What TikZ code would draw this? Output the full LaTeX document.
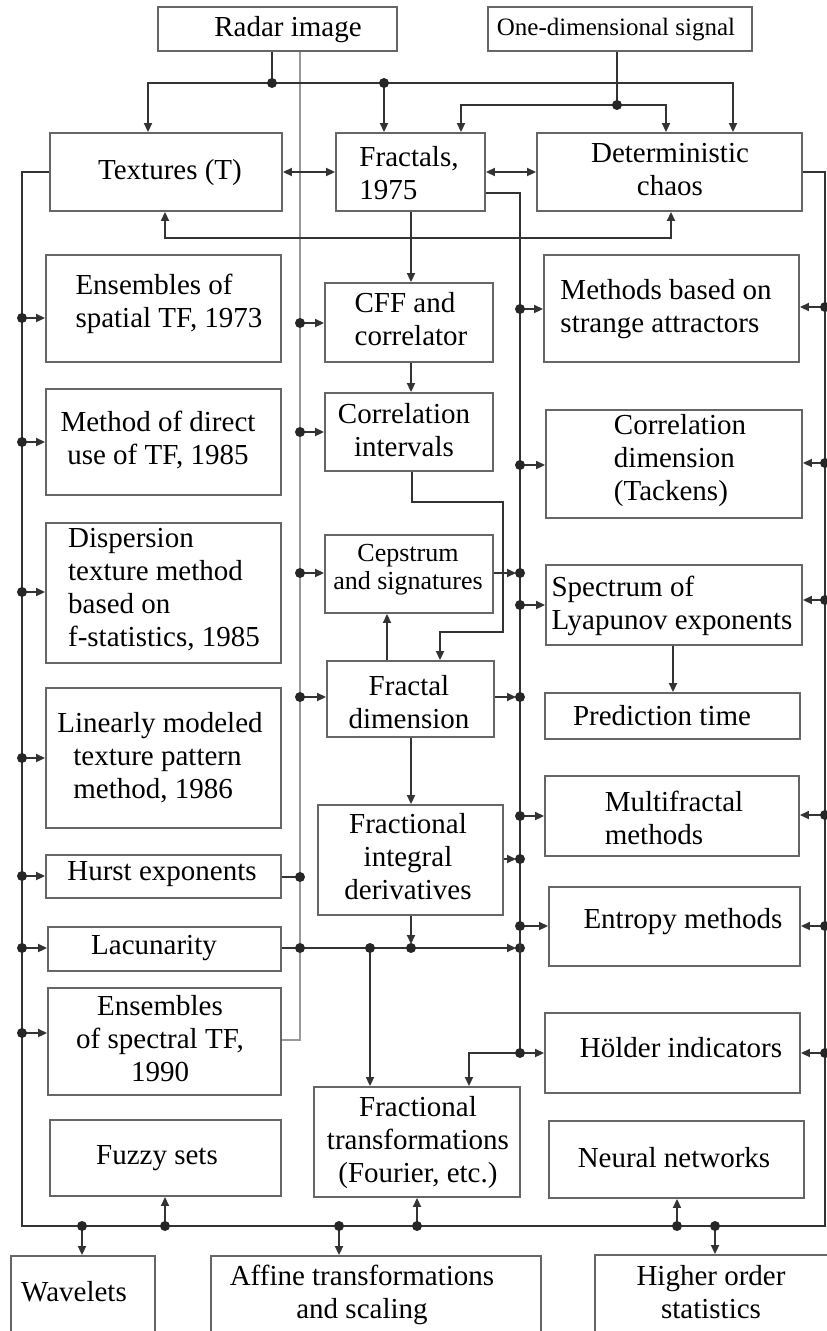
\documentclass[tikz,border=0pt]{standalone}
\usepackage{fontspec}
\setmainfont{Liberation Serif}
\usetikzlibrary{arrows.meta,fit}
\newcommand\jd[1]{\fill[black!85] (#1) circle (5pt);}
\begin{document}
\begin{tikzpicture}[x=1pt,y=-1pt,
  box/.style={draw=black!60, line width=1.9pt, inner sep=0pt},
  txt/.style={inner sep=0pt, align=center, font=\fontsize{29}{33}\selectfont, text=black},
  ln/.style={draw=black!80, line width=1.9pt},
  arr/.style={ln, -{Triangle[length=9pt,width=8pt]}},
  darr/.style={ln, {Triangle[length=9pt,width=8pt]}-{Triangle[length=9pt,width=8pt]}},
  guide/.style={draw=black!40, line width=1.1pt}]
\useasboundingbox (0,0) rectangle (827,1331);
\fill[white] (0,0) rectangle (827,1331);
\clip (0,0) rectangle (827,1331);

% boxes
\node[box, fit={(158,7) (397,51)}] (radar) {};
\node[box, fit={(488,7) (752,51)}] (onedim) {};
\node[box, fit={(50,133) (282,211)}] (textures) {};
\node[box, fit={(336,133) (485,211)}] (fractals) {};
\node[box, fit={(537,133) (802,211)}] (chaos) {};
\node[box, fit={(46,255) (281,362)}] (ens1) {};
\node[box, fit={(46,389) (281,495)}] (direct) {};
\node[box, fit={(46,523) (281,663)}] (disp) {};
\node[box, fit={(46,688) (281,828)}] (linear) {};
\node[box, fit={(46,855) (281,898)}] (hurst) {};
\node[box, fit={(48,927) (281,971)}] (lacun) {};
\node[box, fit={(48,988) (281,1095)}] (ens2) {};
\node[box, fit={(50,1120) (281,1196)}] (fuzzy) {};
\node[box, fit={(325,283) (493,362)}] (cff) {};
\node[box, fit={(325,393) (493,471)}] (corr) {};
\node[box, fit={(325,535) (493,613)}] (ceps) {};
\node[box, fit={(327,661) (494,737)}] (fdim) {};
\node[box, fit={(318,805) (503,915)}] (fint) {};
\node[box, fit={(314,1087) (520,1197)}] (ftrans) {};
\node[box, fit={(544,255) (799,362)}] (strange) {};
\node[box, fit={(546,410) (802,518)}] (cdim) {};
\node[box, fit={(546,565) (802,645)}] (lyap) {};
\node[box, fit={(545,693) (800,739)}] (pred) {};
\node[box, fit={(545,776) (799,856)}] (multi) {};
\node[box, fit={(549,887) (800,966)}] (entropy) {};
\node[box, fit={(545,1013) (800,1093)}] (holder) {};
\node[box, fit={(549,1121) (804,1198)}] (neural) {};
\node[box, fit={(11,1256) (155,1350)}] (wave) {};
\node[box, fit={(211,1256) (541,1350)}] (affine) {};
\node[box, fit={(595,1255) (845,1350)}] (higher) {};

% texts
\node[txt] (radar-t) at (288,30) {Radar image};
\node[txt,font=\fontsize{25}{28}\selectfont] (onedim-t) at (616,30) {One-dimensional signal};
\node[txt] (textures-t) at (170,173) {Textures (T)};
\node[txt,align=left] (fractals-t) at (409,173) {Fractals,\\1975};
\node[txt] (chaos-t) at (670,170) {Deterministic\\chaos};
\node[txt,align=left] (ens1-t) at (169,304) {Ensembles of\\spatial TF, 1973};
\node[txt] (direct-t) at (158,440) {Method of direct\\use of TF, 1985};
\node[txt,align=left] (disp-t) at (164,590) {Dispersion\\texture method\\based on\\f-statistics, 1985};
\node[txt,align=left] (linear-t) at (168,758) {\hspace*{-16pt}Linearly modeled\\texture pattern\\method, 1986};
\node[txt] (hurst-t) at (162,874) {Hurst exponents};
\node[txt] (lacun-t) at (154,948) {Lacunarity};
\node[txt] (ens2-t) at (160,1039) {Ensembles\\of spectral TF,\\1990};
\node[txt] (fuzzy-t) at (157,1158) {Fuzzy sets};
\node[txt] (wave-t) at (74,1292) {Wavelets};
\node[txt] (affine-t) at (362,1295) {Affine transformations\\and scaling};
\node[txt] (higher-t) at (711,1292) {Higher order\\statistics};
\node[txt] (neural-t) at (674,1158) {Neural networks};
\node[txt] (ftrans-t) at (418,1143) {Fractional\\transformations\\(Fourier, etc.)};
\node[txt,align=left] (cff-t) at (411,319) {CFF and\\correlator};
\node[txt] (corr-t) at (404,430) {Correlation\\intervals};
\node[txt,font=\fontsize{26}{28}\selectfont] (ceps-t) at (408,570) {Cepstrum\\and signatures};
\node[txt] (fdim-t) at (409,702) {Fractal\\dimension};
\node[txt] (fint-t) at (408,857) {Fractional\\integral\\derivatives};
\node[txt,align=left] (strange-t) at (666,309) {Methods based on\\strange attractors};
\node[txt,align=left] (cdim-t) at (680,461) {Correlation\\dimension\\(Tackens)};
\node[txt,align=left] (lyap-t) at (672,606) {Spectrum of\\Lyapunov exponents};
\node[txt] (pred-t) at (662,716) {Prediction time};
\node[txt,align=left] (multi-t) at (674,818) {Multifractal\\methods};
\node[txt] (entropy-t) at (683,922) {Entropy methods};
\node[txt] (holder-t) at (681,1048) {Hölder indicators};

% thin guide line from radar image
\draw[guide] (radar.south -| 300,0) -- (300,1040) -- (ens2.east |- 0,1040);

% top connectors
\coordinate (r1) at (272,83);
\coordinate (r2) at (384,83);
\coordinate (s1) at (617,105);
\draw[ln] (radar.south -| r1) -- (r1);
\draw[arr] (r1) -| (textures.north -| 148,0);
\draw[arr] (r1) -| (chaos.north -| 733,0);
\draw[arr] (r2) -- (fractals.north -| r2);
\draw[ln] (onedim.south -| s1) -- (s1);
\draw[arr] (s1) -| (fractals.north -| 461,0);
\draw[arr] (s1) -| (chaos.north -| 666,0);
\jd{r1} \jd{r2} \jd{s1}
\draw[darr] (textures.east) -- (fractals.west);
\draw[darr] (fractals.east) -- (chaos.west);
\draw[darr] (textures.south -| 165,0) -- (165,238) -- (671,238) -- (chaos.south -| 671,0);

% outer bus
\draw[ln] (textures.west) -- (22,172) -- (22,1226) -- (825,1226) -- (825,172) -- (chaos.east);

% middle column
\draw[arr] (fractals.south -| 411,0) -- (cff.north -| 411,0);
\draw[arr] (cff.south -| 411,0) -- (corr.north -| 411,0);
\draw[arr] (corr.south -| 412,0) -- (412,502) -- (503,502) -- (503,632) -- (440,632) -- (fdim.north -| 440,0);
\draw[arr] (fdim.north -| 387,0) -- (ceps.south -| 387,0);
\draw[arr] (fdim.south -| 411,0) -- (fint.north -| 411,0);
\draw[arr] (fint.south -| 411,0) -- (411,944);
\draw[arr] (lacun.east |- 0,948) -- (516,948);
\draw[arr] (370,948) -- (ftrans.north -| 370,0);
\jd{300,948} \jd{370,948} \jd{411,948} \jd{520,948}
\draw[ln] (hurst.east |- 0,877) -- (300,877);
\jd{300,877}

% guide-line arrows into middle boxes
\foreach \y/\b in {323/cff,432/corr,573/ceps,697/fdim}{
  \draw[arr] (300,\y) -- (\b.west |- 0,\y);
  \jd{300,\y}
}

% inner bus
\draw[ln] (fractals.east |- 0,193) -- (520,193) -- (520,1053);
\draw[arr] (520,1053) -| (ftrans.north -| 469,0);
\foreach \y/\b in {573/ceps,697/fdim,859/fint}{
  \draw[arr] (\b.east |- 0,\y) -- (516,\y);
  \jd{520,\y}
}
\foreach \y/\b in {309/strange,465/cdim,605/lyap,816/multi,926/entropy,1053/holder}{
  \draw[arr] (520,\y) -- (\b.west |- 0,\y);
  \jd{520,\y}
}
\draw[arr] (lyap.south -| 673,0) -- (pred.north -| 673,0);

% right bus
\foreach \y/\b in {307/strange,463/cdim,600/lyap,815/multi,926/entropy,1053/holder}{
  \draw[arr] (825,\y) -- (\b.east |- 0,\y);
  \jd{825,\y}
}

% left bus
\foreach \y/\b in {318/ens1,442/direct,592/disp,758/linear,876/hurst,948/lacun,1033/ens2}{
  \draw[arr] (22,\y) -- (\b.west |- 0,\y);
  \jd{22,\y}
}

% bottom bus
\draw[arr] (82,1226) -- (wave.north -| 82,0);
\draw[arr] (165,1226) -- (fuzzy.south -| 165,0);
\draw[arr] (339,1226) -- (affine.north -| 339,0);
\draw[arr] (417,1226) -- (ftrans.south -| 417,0);
\draw[arr] (677,1226) -- (neural.south -| 677,0);
\draw[arr] (715,1226) -- (higher.north -| 715,0);
\foreach \x in {82,165,339,417,677,715}{\jd{\x,1226}}
\end{tikzpicture}
\end{document}
